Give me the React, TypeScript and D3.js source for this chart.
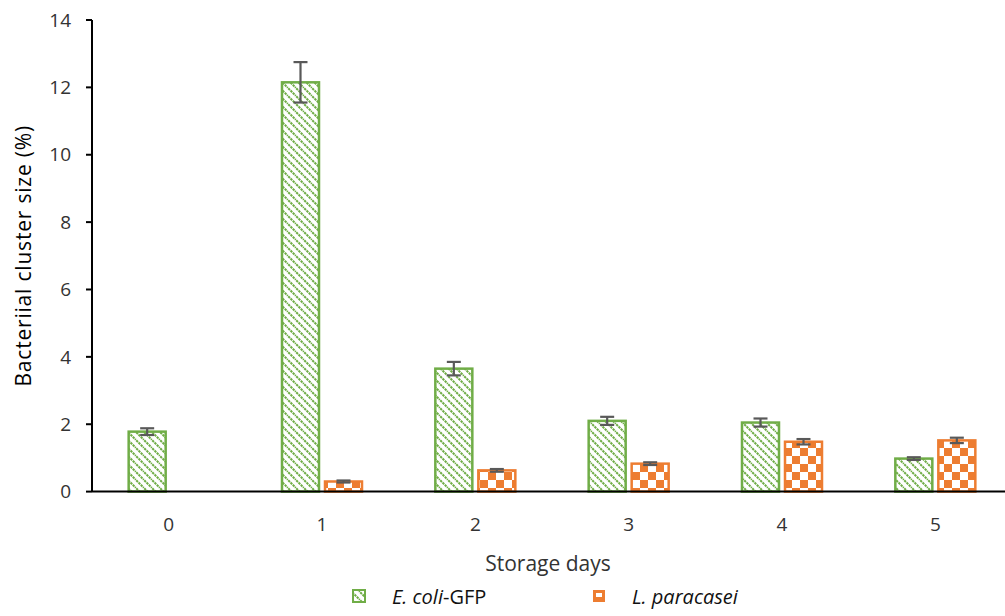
import React from "react";
import * as d3 from "d3";

const days = ["0", "1", "2", "3", "4", "5"];
const ecoliValues = [1.78, 12.15, 3.65, 2.1, 2.05, 0.98];
const ecoliErrors = [0.1, 0.6, 0.2, 0.12, 0.12, 0.04];
const paraValues = [null, 0.3, 0.63, 0.83, 1.48, 1.52];
const paraErrors = [0, 0.03, 0.04, 0.04, 0.08, 0.08];
const yTicks = [0, 2, 4, 6, 8, 10, 12, 14];

const GREEN = "#70AD47";
const ORANGE = "#ED7D31";
const ERR = "#595959";
const FONT = "'Open Sans', 'DejaVu Sans', sans-serif";

const width = 1005;
const height = 616;
const margin = { top: 20, right: 0, bottom: 125, left: 92 };

const App: React.FC = () => {
  const x = d3
    .scaleBand<string>()
    .domain(days)
    .range([margin.left, width + 7])
    .paddingInner(0)
    .paddingOuter(0);
  const y = d3
    .scaleLinear()
    .domain([0, 14])
    .range([height - margin.bottom + 0.6, margin.top]);

  const barW = 37;
  const gap = 6;
  const cx = (d: string) => (x(d) as number) + x.bandwidth() / 2;

  const errorBar = (xc: number, v: number, e: number, key: string) => (
    <g key={key} stroke={ERR} strokeWidth={2.2}>
      <line x1={xc} x2={xc} y1={y(v + e)} y2={y(v - e)} />
      <line x1={xc - 7} x2={xc + 7} y1={y(v + e)} y2={y(v + e)} />
      <line x1={xc - 7} x2={xc + 7} y1={y(v - e)} y2={y(v - e)} />
    </g>
  );

  return (
    <svg width={width} height={height} style={{ position: "absolute", left: 0, top: 0 }}>
      <defs>
        <pattern id="diag" patternUnits="userSpaceOnUse" width="8" height="8">
          <rect width="8" height="8" fill="#fff" />
          <path
            d="M-2,-2 L10,10 M-2,6 L2,10 M6,-2 L10,2"
            stroke={GREEN}
            strokeWidth="2"
            strokeDasharray="2.4,0.8"
          />
        </pattern>
        <pattern id="check" patternUnits="userSpaceOnUse" width="16" height="16" x="0" y="0">
          <rect width="16" height="16" fill="#fff" />
          <rect width="8" height="8" fill={ORANGE} />
          <rect x="8" y="8" width="8" height="8" fill={ORANGE} />
        </pattern>
      </defs>

      {/* bars */}
      {days.map((d, i) => {
        const xc = cx(d);
        const gx = xc - gap / 2 - barW;
        const ox = xc + gap / 2;
        const pv = paraValues[i];
        return (
          <g key={d}>
            <rect
              x={gx}
              y={y(ecoliValues[i])}
              width={barW}
              height={y(0) - y(ecoliValues[i])}
              fill="url(#diag)"
              stroke={GREEN}
              strokeWidth={2.5}
            />
            {pv !== null && (
              <rect
                x={ox}
                y={y(pv)}
                width={barW}
                height={y(0) - y(pv)}
                fill="url(#check)"
                stroke={ORANGE}
                strokeWidth={2.5}
              />
            )}
            {errorBar(gx + barW / 2, ecoliValues[i], ecoliErrors[i], "e" + d)}
            {pv !== null && errorBar(ox + barW / 2, pv, paraErrors[i], "p" + d)}
          </g>
        );
      })}

      {/* y axis */}
      <line x1={margin.left} x2={margin.left} y1={y(14)} y2={y(0)} stroke="#000" strokeWidth={2} />
      {yTicks.map((t) => (
        <g key={t}>
          <line x1={margin.left - 6} x2={margin.left} y1={y(t)} y2={y(t)} stroke="#000" strokeWidth={2} />
          <text
            x={margin.left - 21}
            y={y(t)}
            dy="0.35em"
            textAnchor="end"
            fontFamily={FONT}
            fontSize={19}
            fill="#333"
          >
            {t}
          </text>
        </g>
      ))}

      {/* x axis */}
      <line x1={margin.left} x2={width} y1={y(0)} y2={y(0)} stroke="#000" strokeWidth={2} />
      {days.map((d) => (
        <text
          key={d}
          x={cx(d)}
          y={y(0) + 39}
          textAnchor="middle"
          fontFamily={FONT}
          fontSize={19}
          fill="#333"
        >
          {d}
        </text>
      ))}

      {/* axis titles */}
      <text
        x={548}
        y={571}
        textAnchor="middle"
        fontFamily={FONT}
        fontSize={21}
        fill="#333"
      >
        Storage days
      </text>
      <text
        transform={`translate(31, ${(y(0) + y(14)) / 2}) rotate(-90)`}
        textAnchor="middle"
        fontFamily={FONT}
        fontSize={21}
        letterSpacing={0.8}
        fill="#000"
      >
        Bacteriial cluster size (%)
      </text>

      {/* legend */}
      <g fontFamily={FONT} fontSize={20} fill="#111">
        <rect x={353} y={590} width={12} height={12} fill="url(#diag)" stroke={GREEN} strokeWidth={2} />
        <text x={392} y={604}>
          <tspan fontStyle="italic">E. coli</tspan>
          <tspan>-GFP</tspan>
        </text>
        <rect x={593} y={590} width={12} height={12} fill={ORANGE} />
        <rect x={596} y={593} width={6} height={4} fill="#fff" />
        <text x={632} y={604} fontStyle="italic">
          L. paracasei
        </text>
      </g>
    </svg>
  );
};

export default App;
